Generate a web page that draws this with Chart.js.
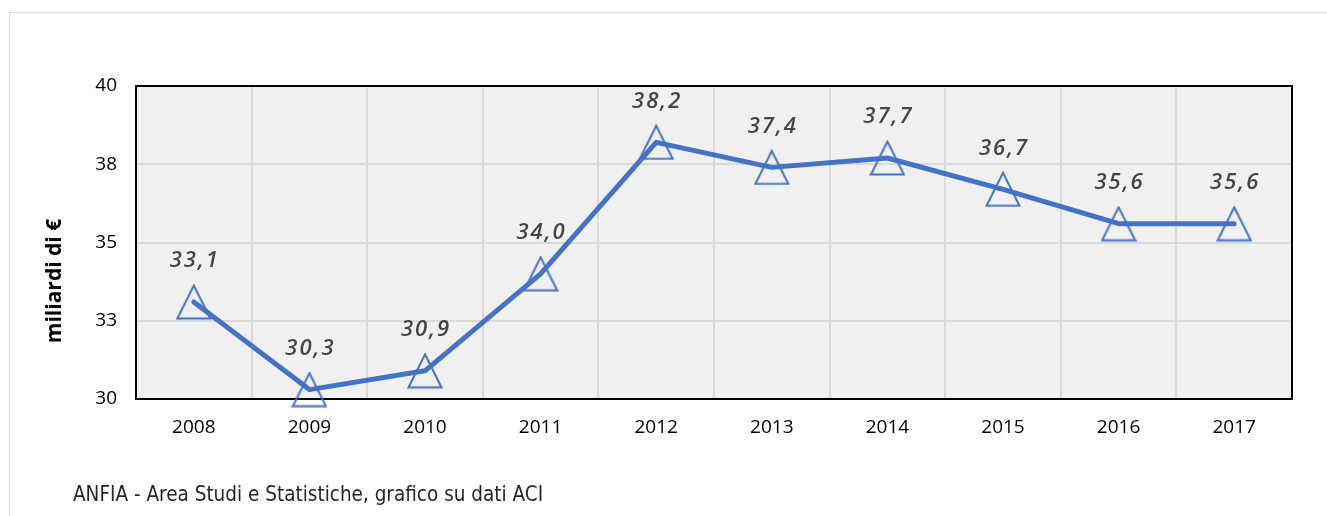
<!DOCTYPE html>
<html>
<head>
<meta charset="utf-8">
<script src="https://cdn.jsdelivr.net/npm/chart.js@4"></script>
<style>
  html, body { margin: 0; padding: 0; background: #fff; }
  #wrap { position: relative; width: 1327px; height: 516px; overflow: hidden; }
  #fonte {
    position: absolute; left: 73px; top: 482px;
    font-family: "DejaVu Sans Condensed", "DejaVu Sans", sans-serif;
    font-size: 20.5px; color: #262626; white-space: nowrap;
  }
</style>
</head>
<body>
<div id="wrap">
  <canvas id="grafico" width="1327" height="516"></canvas>
  <div id="fonte">ANFIA - Area Studi e Statistiche, grafico su dati ACI</div>
</div>
<script>
// anni e valori (miliardi di euro)
const anni = ['2008', '2009', '2010', '2011', '2012', '2013', '2014', '2015', '2016', '2017'];
const valori = [33.1, 30.3, 30.9, 34.0, 38.2, 37.4, 37.7, 36.7, 35.6, 35.6];
const yMin = 30;
const yMax = 40;
const yStep = 2.5;
const titoloY = 'miliardi di €';

const blu = '#4472C4';

// marcatore a triangolo vuoto
function triangolo() {
    const c = document.createElement('canvas');
    c.width = 36; c.height = 36;
    const g = c.getContext('2d');
    g.strokeStyle = blu;
    g.lineWidth = 2;
    g.beginPath();
    g.moveTo(18, 1.5);
    g.lineTo(34.5, 34.5);
    g.lineTo(1.5, 34.5);
    g.closePath();
    g.stroke();
    return c;
}

const sfondo = {
    id: 'sfondo',
    beforeDraw(chart) {
        const ctx = chart.ctx;
        const a = chart.chartArea;
        ctx.save();
        ctx.strokeStyle = '#d9d9d9';
        ctx.lineWidth = 1;
        ctx.strokeRect(9.5, 12.5, 1340, 530);
        ctx.fillStyle = '#f0f0f0';
        ctx.fillRect(a.left, a.top, a.right - a.left, a.bottom - a.top);
        ctx.restore();
    },
    beforeDatasetsDraw(chart) {
        const ctx = chart.ctx;
        const a = chart.chartArea;
        ctx.save();
        ctx.strokeStyle = '#000';
        ctx.lineWidth = 2;
        ctx.strokeRect(a.left, a.top, a.right - a.left, a.bottom - a.top);
        // titolo asse y
        ctx.translate(55, 281);
        ctx.rotate(-Math.PI / 2);
        ctx.font = 'bold 21px "Open Sans", sans-serif';
        ctx.fillStyle = '#000';
        ctx.textAlign = 'center';
        ctx.textBaseline = 'middle';
        ctx.fillText(titoloY, 0, 0);
        ctx.restore();
    },
    afterDatasetsDraw(chart) {
        const ctx = chart.ctx;
        const meta = chart.getDatasetMeta(0);
        ctx.save();
        ctx.font = 'italic 600 22px "Open Sans", sans-serif';
        ctx.letterSpacing = '2px';
        ctx.fillStyle = '#454545';
        ctx.textAlign = 'center';
        ctx.textBaseline = 'middle';
        meta.data.forEach((p, i) => {
            const txt = valori[i].toFixed(1).replace('.', ',');
            ctx.fillText(txt, p.x + 1, p.y - 41);
        });
        ctx.restore();
    }
};

new Chart(document.getElementById('grafico'), {
    type: 'line',
    data: {
        labels: anni,
        datasets: [{
            data: valori,
            borderColor: blu,
            borderWidth: 5,
            borderCapStyle: 'round',
            borderJoinStyle: 'round',
            tension: 0,
            fill: false,
            clip: false,
            pointStyle: triangolo(),
            pointRadius: 17,
            pointHoverRadius: 17
        }]
    },
    options: {
        responsive: false,
        devicePixelRatio: 1,
        animation: false,
        events: [],
        layout: { padding: { top: 86, right: 35, left: 0, bottom: 0 } },
        plugins: {
            legend: { display: false },
            tooltip: { enabled: false }
        },
        scales: {
            x: {
                offset: true,
                afterFit(s) { s.height = 117; },
                grid: { color: '#d9d9d9', lineWidth: 2, drawTicks: false, offset: true },
                border: { display: false },
                ticks: {
                    padding: 17,
                    color: '#000',
                    font: { family: '"Open Sans", sans-serif', size: 19 }
                }
            },
            y: {
                min: yMin,
                max: yMax,
                afterFit(s) { s.width = 136; },
                grid: { color: '#d9d9d9', lineWidth: 2, drawTicks: false },
                border: { display: false },
                ticks: {
                    stepSize: yStep,
                    padding: 19,
                    color: '#000',
                    font: { family: '"Open Sans", sans-serif', size: 19 },
                    callback: v => Math.round(v)
                }
            }
        }
    },
    plugins: [sfondo]
});
</script>
</body>
</html>
